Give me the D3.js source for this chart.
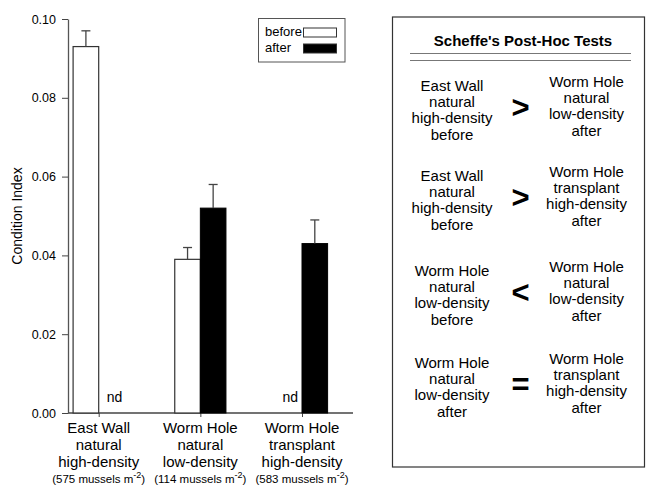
<!DOCTYPE html>
<html><head><meta charset="utf-8">
<script src="https://cdn.jsdelivr.net/npm/d3@7"></script>
<style>body{margin:0;background:#fff}svg{display:block;font-family:"Liberation Sans",Arial,sans-serif}</style>
</head><body><svg id="c" width="646" height="486"></svg>
<script>
// ---- data ----
const categories = ["East Wall|natural|high-density", "Worm Hole|natural|low-density", "Worm Hole|transplant|high-density"];
const densities = ["575", "114", "583"];
const beforeValues = [0.093, 0.039, null];
const beforeErrors = [0.004, 0.003, null];
const afterValues = [null, 0.052, 0.043];
const afterErrors = [null, 0.006, 0.006];
const yTicks = [0.00, 0.02, 0.04, 0.06, 0.08, 0.10];
const seriesNames = ["before", "after"];
const testTitle = "Scheffe's Post-Hoc Tests";
const testLeft = ["East Wall|natural|high-density|before", "East Wall|natural|high-density|before", "Worm Hole|natural|low-density|before", "Worm Hole|natural|low-density|after"];
const testSymbol = [">", ">", "<", "="];
const testRight = ["Worm Hole|natural|low-density|after", "Worm Hole|transplant|high-density|after", "Worm Hole|natural|low-density|after", "Worm Hole|transplant|high-density|after"];

const svg = d3.select("#c");
const y = d3.scaleLinear().domain([0, 0.10]).range([413, 19]);
const x = d3.scalePoint().domain(categories).range([98.7, 302]);
const bw = 25.6;

// x axis line
svg.append("line").attr("x1", 68).attr("x2", 353).attr("y1", y(0)).attr("y2", y(0))
  .attr("stroke", "#444").attr("stroke-width", 1.3);
const xa = svg.append("g").attr("transform", `translate(0,${y(0)})`)
  .call(d3.axisBottom(x).tickSize(4).tickFormat(""));
xa.select(".domain").remove();
xa.selectAll("line").attr("stroke", "#444");

// bars
const g = svg.append("g");
const rows = categories.map((c, i) => ({c, i}));
g.selectAll("rect.before").data(rows.filter(d => beforeValues[d.i] != null)).join("rect")
  .attr("x", d => x(d.c) - bw).attr("width", bw)
  .attr("y", d => y(beforeValues[d.i])).attr("height", d => y(0) - y(beforeValues[d.i]))
  .attr("fill", "#fff").attr("stroke", "#333").attr("stroke-width", 1.2);
g.selectAll("rect.after").data(rows.filter(d => afterValues[d.i] != null)).join("rect")
  .attr("x", d => x(d.c)).attr("width", bw)
  .attr("y", d => y(afterValues[d.i])).attr("height", d => y(0) - y(afterValues[d.i]))
  .attr("fill", "#000").attr("stroke", "#000");

// error bars
function err(vals, errs, off) {
  rows.filter(d => vals[d.i] != null).forEach(d => {
    const cx = x(d.c) + off;
    g.append("line").attr("x1", cx).attr("x2", cx).attr("y1", y(vals[d.i])).attr("y2", y(vals[d.i] + errs[d.i]))
      .attr("stroke", "#444").attr("stroke-width", 1.3);
    g.append("line").attr("x1", cx - 4.5).attr("x2", cx + 4.5).attr("y1", y(vals[d.i] + errs[d.i])).attr("y2", y(vals[d.i] + errs[d.i]))
      .attr("stroke", "#444").attr("stroke-width", 1.3);
  });
}
err(beforeValues, beforeErrors, -bw / 2);
err(afterValues, afterErrors, bw / 2);

// nd labels
rows.forEach(d => {
  if (beforeValues[d.i] == null) g.append("text").attr("x", x(d.c) - bw / 2 + 1).attr("y", 402).attr("text-anchor", "middle").attr("font-size", 14).text("nd");
  if (afterValues[d.i] == null) g.append("text").attr("x", x(d.c) + bw / 2 + 3).attr("y", 402).attr("text-anchor", "middle").attr("font-size", 14).text("nd");
});

// y axis
const ya = svg.append("g").attr("transform", "translate(68,0)")
  .call(d3.axisLeft(y).tickValues(yTicks).tickFormat(d3.format(".2f")).tickSize(6).tickSizeOuter(0).tickPadding(6));
ya.select(".domain").attr("stroke", "#555").attr("stroke-width", 1.3);
ya.selectAll("line").attr("stroke", "#444");
ya.selectAll("text").attr("font-size", 12.5).attr("fill", "#000").attr("font-family", "Liberation Sans, Arial, sans-serif");

svg.append("text").attr("transform", "translate(22,216) rotate(-90)").attr("text-anchor", "middle")
  .attr("font-size", 14).text("Condition Index");

// category labels
rows.forEach(d => {
  const lines = d.c.split("|");
  lines.forEach((l, k) => svg.append("text").attr("x", x(d.c)).attr("y", 433 + k * 16.8)
    .attr("text-anchor", "middle").attr("font-size", 15).text(l));
  const t = svg.append("text").attr("x", x(d.c)).attr("y", 483).attr("text-anchor", "middle").attr("font-size", 11.5);
  t.append("tspan").text(`(${densities[d.i]} mussels m`);
  t.append("tspan").attr("dy", -5).attr("font-size", 9).text("-2");
  t.append("tspan").attr("dy", 5).text(")");
});

// legend
svg.append("rect").attr("x", 258.5).attr("y", 18.5).attr("width", 86.5).attr("height", 43.5)
  .attr("fill", "#fff").attr("stroke", "#555");
seriesNames.forEach((s, k) => {
  svg.append("text").attr("x", 265).attr("y", 36 + k * 16).attr("font-size", 13).text(s);
  svg.append("rect").attr("x", 303.5).attr("y", 28 + k * 16).attr("width", 33).attr("height", 9)
    .attr("fill", k === 0 ? "#fff" : "#000").attr("stroke", "#333");
});

// right panel
svg.append("rect").attr("x", 392.5).attr("y", 17).attr("width", 252).attr("height", 450)
  .attr("fill", "none").attr("stroke", "#333").attr("stroke-width", 1.2);
svg.append("text").attr("x", 523).attr("y", 46).attr("text-anchor", "middle").attr("font-size", 15)
  .attr("font-weight", "bold").text(testTitle);
[53.5, 60.5].forEach(yy => svg.append("line").attr("x1", 410).attr("x2", 631).attr("y1", yy).attr("y2", yy)
  .attr("stroke", "#777").attr("stroke-width", 1.2));
const rowTop = [91, 181, 276, 368];
testLeft.forEach((t, i) => {
  t.split("|").forEach((l, k) => svg.append("text").attr("x", 452).attr("y", rowTop[i] + k * 16.2)
    .attr("text-anchor", "middle").attr("font-size", 15).text(l));
  testRight[i].split("|").forEach((l, k) => svg.append("text").attr("x", 586.5).attr("y", rowTop[i] - 4 + k * 16.2)
    .attr("text-anchor", "middle").attr("font-size", 15).text(l));
  svg.append("text").attr("x", 520.5).attr("y", rowTop[i] + 16.5).attr("text-anchor", "middle")
    .attr("dominant-baseline", "central").attr("font-size", 31).attr("font-weight", "bold").text(testSymbol[i]);
});
</script></body></html>
